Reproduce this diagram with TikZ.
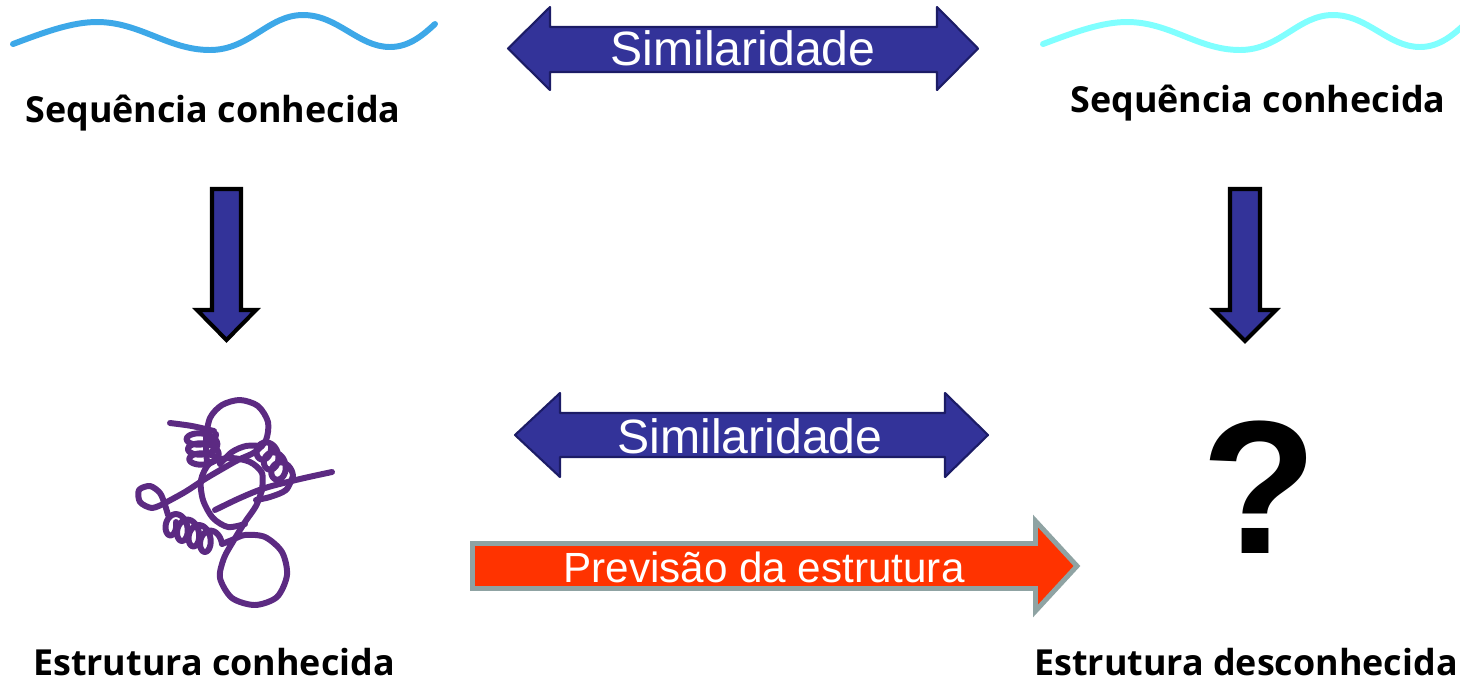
\documentclass[tikz,border=0pt]{standalone}
\usepackage{fontspec}
\setmainfont{Liberation Sans}
\newfontfamily\labelfont{Open Sans}

\definecolor{arrowblue}{HTML}{333399}
\definecolor{arrowedge}{HTML}{1C1C66}
\definecolor{predred}{HTML}{FF3300}
\definecolor{predgray}{HTML}{8FA3A3}
\definecolor{seqblue}{HTML}{3DA8E8}
\definecolor{seqcyan}{HTML}{80FFFF}
\definecolor{chainpurple}{HTML}{5C2A82}

\tikzset{
  seqlabel/.style={font=\labelfont\bfseries\fontsize{10.2}{12}\selectfont, anchor=base},
  simtext/.style={text=white, font=\fontsize{13.7}{16}\selectfont, anchor=base},
  predtext/.style={text=white, font=\fontsize{12}{14}\selectfont, anchor=base},
  seqwave/.style={line width=1.7pt, line cap=round},
  simarrow/.style={fill=arrowblue, draw=arrowedge, line width=0.6pt, line join=round},
  downarrow/.style={fill=arrowblue, draw=black, line width=1.15pt},
  predarrow/.style={fill=predred, draw=predgray, line width=1.4pt},
  chain/.style={draw=chainpurple, line width=1.7pt, line cap=round, line join=round}
}

% spring-like coil: x0, y0, dx, dy, a, b, turns
\newcommand{\coilpath}[7]{%
  \draw[chain] plot[domain=0:1, samples=150, smooth]
    ({#1+#3*\x+#5*cos(360*#7*\x)}, {#2+#4*\x+#6*sin(360*#7*\x)});}

% one wavy sequence line, shifted by #2
\newcommand{\seqline}[2]{%
  \draw[seqwave, #1, xshift=#2*0.01cm] (13,44) .. controls (45,32) and (72,22) .. (97,22)
    .. controls (140,22) and (168,50) .. (210,50) .. controls (250,50) and (268,15) .. (303,15)
    .. controls (338,15) and (358,47) .. (390,47) .. controls (410,47) and (424,34) .. (435,24);}

\begin{document}
\begin{tikzpicture}[x=0.01cm, y=-0.01cm]
\useasboundingbox (0,0) rectangle (1460,681);

% sequences
\seqline{seqblue}{0}
\seqline{seqcyan}{1030}
\node[seqlabel] (seqA) at (213,122) {Sequência conhecida};
\node[seqlabel] (seqB) at (1258,112) {Sequência conhecida};

% similarity arrows
\filldraw[simarrow] (508,48.5) -- (550,7) -- (550,27) -- (937,27) -- (937,7) -- (978,48.5)
  -- (937,90) -- (937,72) -- (550,72) -- (550,90) -- cycle;
\node[simtext] (simTop) at (743,65) {Similaridade};
\filldraw[simarrow] (515,435) -- (560,393) -- (560,413) -- (945,413) -- (945,393) -- (988,435)
  -- (945,477) -- (945,457) -- (560,457) -- (560,477) -- cycle;
\node[simtext] (simMid) at (750,453) {Similaridade};

% sequence -> structure
\filldraw[downarrow] (212,189) -- (241,189) -- (241,310) -- (256,310) -- (226.5,340)
  -- (197,310) -- (212,310) -- cycle;
\filldraw[downarrow] (1230,189) -- (1260,189) -- (1260,310) -- (1276,310) -- (1245,341)
  -- (1214,310) -- (1230,310) -- cycle;

% prediction
\filldraw[predarrow] (472.5,543.5) -- (1035.5,543.5) -- (1035.5,521) -- (1077,566)
  -- (1035.5,611) -- (1035.5,588.5) -- (472.5,588.5) -- cycle;
\node[predtext] (pred) at (764,582) {Previsão da estrutura};

% known fold
\draw[chain] plot[smooth] coordinates {(170,423) (192,426) (214,431)};
\coilpath{201}{434}{4}{30}{15}{8}{3}
\draw[chain] plot[smooth] coordinates {(220,464) (232,452) (246,446) (262,446)};
\coilpath{262}{446}{22}{30}{9}{11}{3}
\draw[chain] plot[smooth] coordinates {(293,476) (286,490) (270,497) (256,500)};
\draw[chain] plot[smooth] coordinates {(207,462) (206,440) (210,418) (222,405) (240,400) (258,406)
  (268,422) (266,440) (255,452) (238,460) (222,469) (205,479) (185,492) (165,503)};
\draw[chain] plot[smooth] coordinates {(165,503) (152,508) (140,502) (139,490) (150,486) (160,493)
  (165,505) (168,515)};
\coilpath{168}{522}{46}{22}{8}{12}{4}
\draw[chain] plot[smooth] coordinates {(222,544) (232,540) (245,535) (265,537) (282,552) (287,575)
  (277,597) (255,605) (232,598) (220,578) (224,558) (234,540) (245,522) (256,506) (262,490)};
\draw[chain] plot[smooth] coordinates {(262,490) (262,473) (250,462) (230,458) (210,463) (201,480)
  (203,500) (213,518) (228,527) (245,524)};
\draw[chain] plot[smooth] coordinates {(215,510) (240,498) (265,488) (300,479) (332,472)};

% unknown fold
\node[font=\fontsize{54}{60}\selectfont\bfseries, anchor=base] (unknown) at (1259,553) {?};
\node[seqlabel] (strA) at (214,675) {Estrutura conhecida};
\node[seqlabel] (strB) at (1246,675) {Estrutura desconhecida};
\end{tikzpicture}
\end{document}
